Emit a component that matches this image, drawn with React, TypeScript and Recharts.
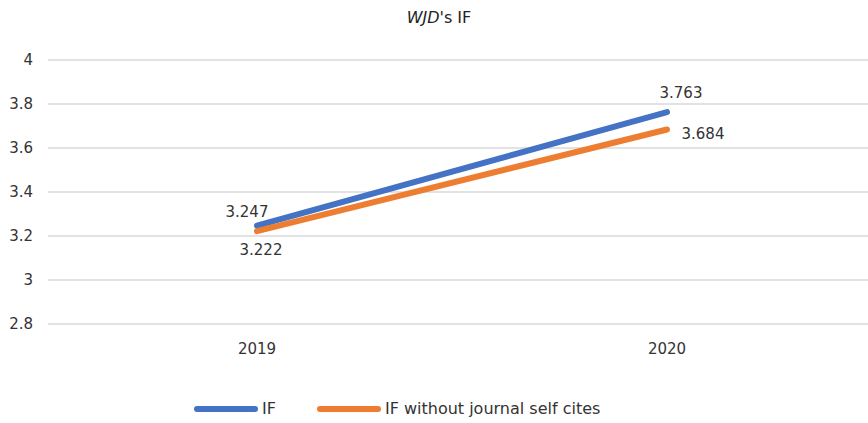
import { LineChart, Line, XAxis, YAxis, CartesianGrid, Legend, LabelList } from 'recharts'

const years = ['2019', '2020']
const ifValues = [3.247, 3.763]
const ifNoSelfValues = [3.222, 3.684]
const yTicks = [2.8, 3, 3.2, 3.4, 3.6, 3.8, 4]

const data = years.map((year, i) => ({
  year,
  impact: ifValues[i],
  noSelf: ifNoSelfValues[i],
}))

const FONT = '"DejaVu Sans", Verdana, sans-serif'
const INK = '#333'

// excel-ish label placement: offsets per point index
const ifOffsets = [
  { dx: -10, dy: -14 },
  { dx: 14, dy: -19 },
]
const noSelfOffsets = [
  { dx: 4, dy: 19 },
  { dx: 36, dy: 4 },
]

function makeLabel(offsets: { dx: number; dy: number }[]) {
  return (props: any) => {
    const { x, y, value, index } = props
    const o = offsets[index] || { dx: 0, dy: 0 }
    return (
      <text
        x={x + o.dx}
        y={y + o.dy}
        textAnchor="middle"
        dominantBaseline="central"
        fontSize={15}
        fontFamily={FONT}
        fill={INK}
      >
        {value}
      </text>
    )
  }
}

function LegendContent() {
  const items = [
    { name: 'IF', color: '#4472C4' },
    { name: 'IF without journal self cites', color: '#ED7D31' },
  ]
  return (
    <div style={{ display: 'flex', justifyContent: 'flex-start', paddingLeft: 193, gap: 40, fontFamily: FONT, fontSize: 16, color: INK }}>
      {items.map((it) => (
        <div key={it.name} style={{ display: 'flex', alignItems: 'center' }}>
          <svg width={66} height={8} style={{ marginRight: 3 }}>
            <line x1={4} y1={4} x2={62} y2={4} stroke={it.color} strokeWidth={6} strokeLinecap="round" />
          </svg>
          <span>{it.name}</span>
        </div>
      ))}
    </div>
  )
}

export default function App() {
  return (
    <div style={{ position: 'absolute', left: 0, top: 0, width: 868, height: 423, background: '#fff' }}>
      <div
        style={{
          position: 'absolute',
          top: 8,
          width: 868,
          paddingLeft: 10,
          boxSizing: 'border-box',
          textAlign: 'center',
          fontFamily: FONT,
          fontSize: 16,
          lineHeight: '20px',
          color: '#222',
        }}
      >
        <i>WJD</i>'s IF
      </div>
      <LineChart width={868} height={423} data={data} margin={{ top: 60, right: 0, bottom: 0, left: 0 }}>
        <CartesianGrid vertical={false} stroke="#d9d9d9" strokeWidth={1.5} />
        <XAxis
          dataKey="year"
          axisLine={false}
          tickLine={false}
          tickSize={0}
          tickMargin={19}
          padding={{ left: 209, right: 201 }}
          height={75}
          tick={{ fontSize: 15, fontFamily: FONT, fill: INK }}
        />
        <YAxis
          domain={[2.8, 4]}
          ticks={yTicks}
          width={48}
          axisLine={false}
          tickLine={false}
          tickSize={0}
          tickMargin={15}
          tick={{ fontSize: 15, fontFamily: FONT, fill: INK }}
        />
        <Legend verticalAlign="bottom" height={24} content={<LegendContent />} />
        <Line
          dataKey="impact"
          name="IF"
          stroke="#4472C4"
          strokeWidth={6}
          strokeLinecap="round"
          dot={false}
          activeDot={false}
          isAnimationActive={false}
        >
          <LabelList dataKey="impact" content={makeLabel(ifOffsets)} />
        </Line>
        <Line
          dataKey="noSelf"
          name="IF without journal self cites"
          stroke="#ED7D31"
          strokeWidth={6}
          strokeLinecap="round"
          dot={false}
          activeDot={false}
          isAnimationActive={false}
        >
          <LabelList dataKey="noSelf" content={makeLabel(noSelfOffsets)} />
        </Line>
      </LineChart>
    </div>
  )
}
